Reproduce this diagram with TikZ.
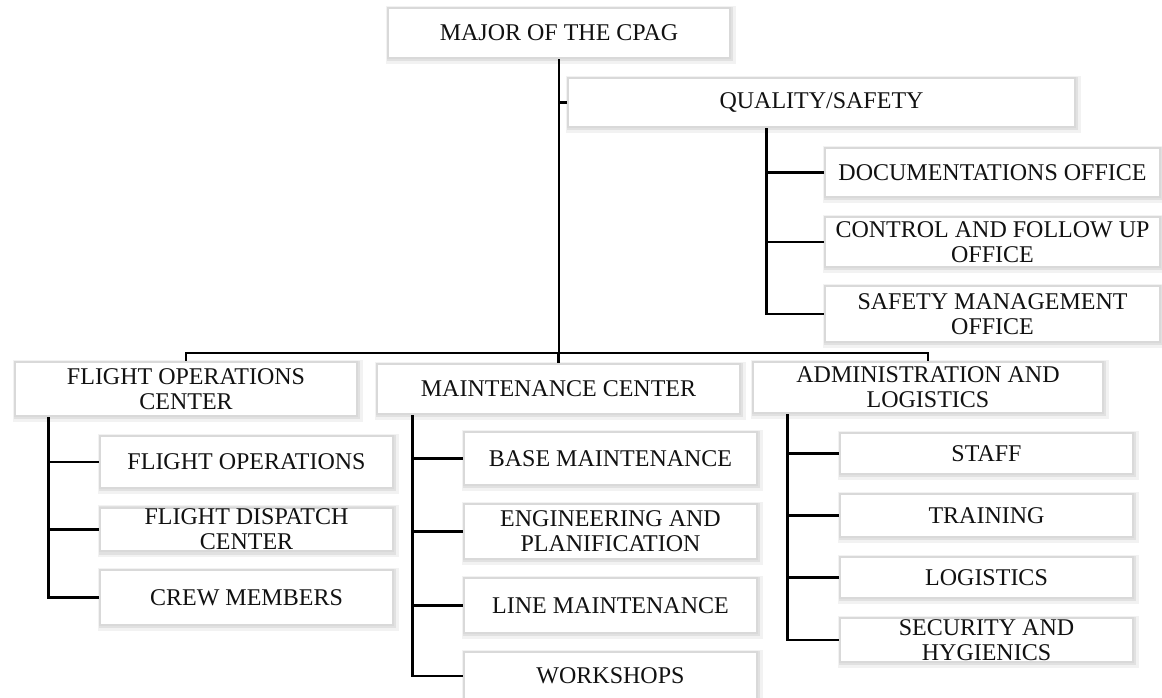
\documentclass[tikz,border=0pt]{standalone}
\usepackage{fontspec}
\setmainfont{Liberation Serif}
\definecolor{Edge}{HTML}{D9D9D9}
\definecolor{Ink}{HTML}{111111}
\tikzset{
  unit/.style={draw=Edge,line width=1.8pt,fill=white,align=center,
    inner sep=1pt,text=Ink,font=\fontsize{18}{18.5}\selectfont,
    % soft halo, heavier to the lower right
    preaction={draw=black,draw opacity=0.05,line width=6pt,
      transform canvas={shift={(1.2pt,-1.2pt)}}},
    preaction={draw=black,draw opacity=0.07,line width=3.6pt,
      transform canvas={shift={(0.8pt,-0.8pt)}}}},
  size/.style 2 args={minimum width={#1*0.75pt},minimum height={#2*0.75pt}},
  link/.style={draw=black,line width=2.2pt},
}

\begin{document}
\begin{tikzpicture}[x=0.75pt,y=-0.75pt]
  \useasboundingbox (0,0) rectangle (1162,698);
  % top of the chart
  \node[unit,size={342}{50}] (major) at (559,33) {MAJOR OF THE CPAG};
  \node[unit,size={507}{49}] (qs) at (821.5,102.5) {QUALITY/SAFETY};
  \coordinate (bus) at (559,353);
  \draw[link] (major.south) -- (bus);
  \draw[link] (qs.west) -- (qs.west -| major.south);
  \foreach \n/\y/\h/\lab in {doc/172.5/49/{DOCUMENTATIONS OFFICE},
                             ctrl/242/50/{CONTROL AND FOLLOW UP\\OFFICE},
                             sms/314/56/{SAFETY MANAGEMENT\\OFFICE}} {
    \node[unit,size={335}{\h}] (\n) at (992.5,\y) {\lab};
    \draw[link] (qs.south west) ++(200,0) |- (\n.west);
  }
  % the three centres
  \node[unit,size={342}{54}] (foc) at (186,389)
       {FLIGHT OPERATIONS\\CENTER};
  \node[unit,size={363}{50}] (mc) at (558.5,389) {MAINTENANCE CENTER};
  \node[unit,size={350}{51}] (adm) at (928,387.5)
       {ADMINISTRATION AND\\LOGISTICS};
  \draw[link] (foc.north) |- (bus) -| (adm.north);
  \draw[link] (mc.north) -- (mc.north |- bus);
  % flight operations
  \foreach \n/\y/\h/\lab in {fo/462/52/{FLIGHT OPERATIONS},
                             fd/529.5/43/{FLIGHT DISPATCH\\CENTER},
                             crew/597.5/55/{CREW MEMBERS}} {
    \node[unit,size={293}{\h}] (\n) at (246.5,\y) {\lab};
    \draw[link] (foc.south west) ++(35,0) |- (\n.west);
  }
  % maintenance
  \foreach \n/\y/\h/\lab in {base/458.5/53/{BASE MAINTENANCE},
                             eng/531.5/55/{ENGINEERING AND\\PLANIFICATION},
                             line/605.5/55/{LINE MAINTENANCE},
                             work/676/48/{WORKSHOPS}} {
    \node[unit,size={293}{\h}] (\n) at (610.5,\y) {\lab};
    \draw[link] (mc.south west) ++(37,0) |- (\n.west);
  }
  % administration
  \foreach \n/\y/\h/\lab in {staff/453.5/41/{STAFF},
                             train/515.5/43/{TRAINING},
                             logi/577.5/41/{LOGISTICS},
                             sec/640/44/{SECURITY AND\\HYGIENICS}} {
    \node[unit,size={293}{\h}] (\n) at (986.5,\y) {\lab};
    \draw[link] (adm.south west) ++(36,0) |- (\n.west);
  }
\end{tikzpicture}
\end{document}
